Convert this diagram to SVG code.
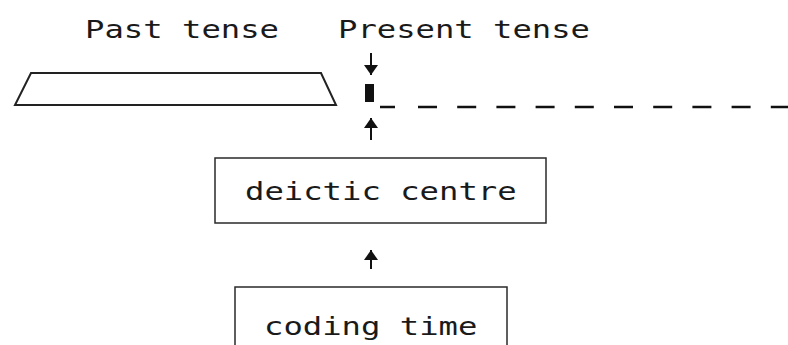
<svg xmlns="http://www.w3.org/2000/svg" width="788" height="345" viewBox="0 0 788 345">
  <style>
    .lbl { font-family: "DejaVu Sans Mono", "Liberation Mono", monospace; font-size: 24px; fill: #1a1a1a; }
    .box { fill: none; stroke: #2a2a2a; stroke-width: 1.5; }
    .trap { fill: none; stroke: #222; stroke-width: 2; }
    .arrow { stroke: #111; stroke-width: 2; fill: none; marker-end: url(#head); }
    .dash { stroke: #111; stroke-width: 2.5; }
  </style>
  <defs>
    <marker id="head" markerUnits="userSpaceOnUse" markerWidth="12" markerHeight="15" refX="10" refY="7.5" orient="auto">
      <path d="M0,0.5 L10,7.5 L0,14.5 Z" fill="#111"/>
    </marker>
  </defs>
  <rect width="788" height="345" fill="#ffffff"/>

  <!-- timeline labels -->
  <text class="lbl" x="85" y="38" textLength="194" lengthAdjust="spacingAndGlyphs">Past tense</text>
  <text class="lbl" x="338" y="38" textLength="252" lengthAdjust="spacingAndGlyphs">Present tense</text>

  <!-- past tense span -->
  <g id="past">
    <polygon class="trap" points="31,73 321,73 336,105 15,105"/>
  </g>

  <!-- present moment marker and the line running forward -->
  <g id="present">
    <rect x="365" y="84" width="9" height="18" fill="#111"/>
    <line class="dash" x1="380" y1="107" x2="395" y2="107"/>
    <line class="dash" x1="418" y1="107" x2="788" y2="107" stroke-dasharray="19 20.2"/>
  </g>

  <g id="deictic">
    <rect class="box" x="215" y="158" width="331" height="65"/>
    <text class="lbl" x="245" y="200" textLength="271.6" lengthAdjust="spacingAndGlyphs">deictic centre</text>
  </g>

  <g id="coding">
    <rect class="box" x="235" y="287" width="272" height="70"/>
    <text class="lbl" x="264" y="335" textLength="213.4" lengthAdjust="spacingAndGlyphs">coding time</text>
  </g>

  <g id="connectors">
    <line class="arrow" x1="371" y1="53" x2="371" y2="75"/>
    <line class="arrow" x1="371" y1="140" x2="371" y2="118"/>
    <line class="arrow" x1="371" y1="269" x2="371" y2="250"/>
  </g>
</svg>
